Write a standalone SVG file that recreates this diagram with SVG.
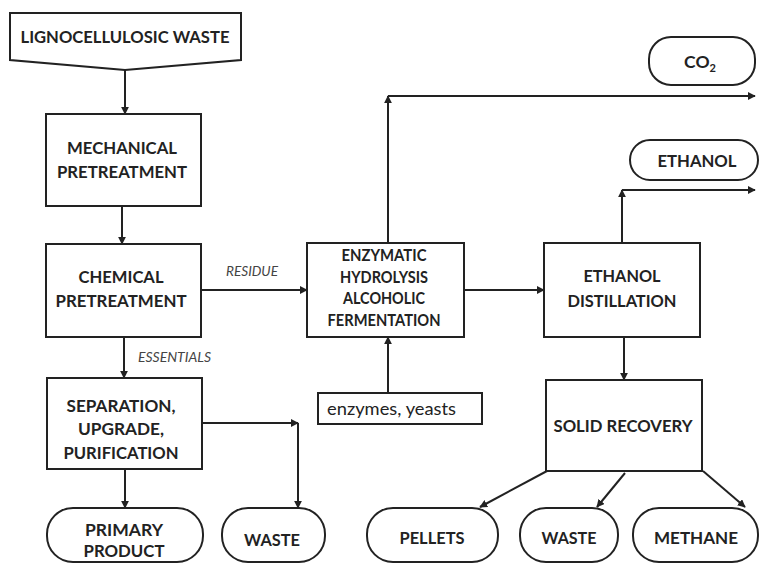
<svg xmlns="http://www.w3.org/2000/svg" width="760" height="564" viewBox="0 0 760 564">
  <style>
    .box { fill: #fff; stroke: #222; stroke-width: 2; }
    .lbl { font-family: Lato, "Open Sans", "Liberation Sans", sans-serif; font-weight: bold; font-size: 17.5px; fill: #222; text-anchor: middle; }
    .note { font-family: Lato, "Open Sans", "Liberation Sans", sans-serif; font-style: italic; font-size: 13.5px; fill: #444; }
    .plain { font-family: Lato, "Open Sans", "Liberation Sans", sans-serif; font-size: 17.5px; fill: #222; }
    .wire { fill: none; stroke: #222; stroke-width: 2; marker-end: url(#arrow); }
  </style>
  <defs>
    <marker id="arrow" viewBox="0 0 10 10" refX="9" refY="5" markerWidth="4" markerHeight="4" orient="auto" markerUnits="strokeWidth">
      <path d="M0,0 L10,5 L0,10 z" fill="#222"/>
    </marker>
  </defs>
  <rect width="760" height="564" fill="#fff"/>

  <!-- connectors -->
  <g id="connectors">
    <line class="wire" x1="125" y1="70" x2="125" y2="114"/>
    <line class="wire" x1="122" y1="206" x2="122" y2="244"/>
    <line class="wire" x1="201" y1="290" x2="307" y2="290"/>
    <line class="wire" x1="124" y1="337" x2="124" y2="378"/>
    <line class="wire" x1="125" y1="469" x2="125" y2="508"/>
    <line class="wire" x1="202" y1="423" x2="298" y2="423"/>
    <line class="wire" x1="298" y1="423" x2="298" y2="508"/>
    <line class="wire" x1="388" y1="393" x2="388" y2="337"/>
    <line class="wire" x1="388" y1="243" x2="388" y2="96"/>
    <line class="wire" x1="388" y1="96" x2="755" y2="96"/>
    <line class="wire" x1="464" y1="290" x2="544" y2="290"/>
    <line class="wire" x1="622" y1="243" x2="622" y2="190"/>
    <line class="wire" x1="622" y1="190" x2="755" y2="190"/>
    <line class="wire" x1="624" y1="337" x2="624" y2="380"/>
    <line class="wire" x1="547" y1="471" x2="480" y2="507"/>
    <line class="wire" x1="625" y1="473" x2="597" y2="507"/>
    <line class="wire" x1="703" y1="471" x2="745" y2="507"/>
    <text class="note" x="226" y="276" textLength="52" lengthAdjust="spacingAndGlyphs">RESIDUE</text>
    <text class="note" x="138" y="362" textLength="73" lengthAdjust="spacingAndGlyphs">ESSENTIALS</text>
  </g>

  <g id="lignocellulosic-waste">
    <path class="box" d="M10,13 L241,13 L241,60 L125,70 L10,60 Z"/>
    <text class="lbl" x="125" y="43" textLength="209" lengthAdjust="spacingAndGlyphs">LIGNOCELLULOSIC WASTE</text>
  </g>

  <g id="mechanical-pretreatment">
    <rect class="box" x="46" y="114" width="155" height="92"/>
    <text class="lbl" x="122" y="154" textLength="110" lengthAdjust="spacingAndGlyphs">MECHANICAL</text>
    <text class="lbl" x="122" y="178" textLength="130" lengthAdjust="spacingAndGlyphs">PRETREATMENT</text>
  </g>

  <g id="chemical-pretreatment">
    <rect class="box" x="46" y="244" width="155" height="93"/>
    <text class="lbl" x="121" y="283" textLength="85" lengthAdjust="spacingAndGlyphs">CHEMICAL</text>
    <text class="lbl" x="121" y="307" textLength="131" lengthAdjust="spacingAndGlyphs">PRETREATMENT</text>
  </g>

  <g id="separation">
    <rect class="box" x="47" y="378" width="155" height="91"/>
    <text class="lbl" x="121" y="412" textLength="109" lengthAdjust="spacingAndGlyphs">SEPARATION,</text>
    <text class="lbl" x="121" y="435" textLength="86" lengthAdjust="spacingAndGlyphs">UPGRADE,</text>
    <text class="lbl" x="121" y="459" textLength="115" lengthAdjust="spacingAndGlyphs">PURIFICATION</text>
  </g>

  <g id="primary-product">
    <rect class="box" x="47" y="508" width="156" height="54" rx="26"/>
    <text class="lbl" x="124" y="536" textLength="78" lengthAdjust="spacingAndGlyphs">PRIMARY</text>
    <text class="lbl" x="124" y="557" textLength="81" lengthAdjust="spacingAndGlyphs">PRODUCT</text>
  </g>

  <g id="waste-left">
    <rect class="box" x="222" y="508" width="103" height="54" rx="26"/>
    <text class="lbl" x="272" y="546" textLength="56" lengthAdjust="spacingAndGlyphs">WASTE</text>
  </g>

  <g id="fermentation">
    <rect class="box" x="307" y="243" width="157" height="94"/>
    <text class="lbl" x="384" y="261" textLength="85" lengthAdjust="spacingAndGlyphs">ENZYMATIC</text>
    <text class="lbl" x="384" y="283" textLength="88" lengthAdjust="spacingAndGlyphs">HYDROLYSIS</text>
    <text class="lbl" x="384" y="304" textLength="82" lengthAdjust="spacingAndGlyphs">ALCOHOLIC</text>
    <text class="lbl" x="384" y="326" textLength="113" lengthAdjust="spacingAndGlyphs">FERMENTATION</text>
  </g>

  <g id="enzymes-yeasts">
    <rect class="box" x="318" y="393" width="164" height="31"/>
    <text class="plain" x="327" y="415" textLength="129" lengthAdjust="spacingAndGlyphs">enzymes, yeasts</text>
  </g>

  <g id="co2">
    <rect class="box" x="649" y="37" width="106" height="48" rx="22"/>
    <text class="lbl" x="700" y="68"><tspan>CO</tspan><tspan dy="4" font-size="11">2</tspan></text>
  </g>

  <g id="ethanol">
    <rect class="box" x="630" y="140" width="128" height="40" rx="20"/>
    <text class="lbl" x="697" y="167" textLength="79" lengthAdjust="spacingAndGlyphs">ETHANOL</text>
  </g>

  <g id="ethanol-distillation">
    <rect class="box" x="544" y="243" width="156" height="94"/>
    <text class="lbl" x="622" y="282" textLength="77" lengthAdjust="spacingAndGlyphs">ETHANOL</text>
    <text class="lbl" x="622" y="307" textLength="109" lengthAdjust="spacingAndGlyphs">DISTILLATION</text>
  </g>

  <g id="solid-recovery">
    <rect class="box" x="546" y="380" width="156" height="91"/>
    <text class="lbl" x="623" y="432" textLength="139" lengthAdjust="spacingAndGlyphs">SOLID RECOVERY</text>
  </g>

  <g id="pellets">
    <rect class="box" x="367" y="508" width="131" height="54" rx="26"/>
    <text class="lbl" x="432" y="544" textLength="65" lengthAdjust="spacingAndGlyphs">PELLETS</text>
  </g>

  <g id="waste-right">
    <rect class="box" x="520" y="508" width="98" height="54" rx="26"/>
    <text class="lbl" x="569" y="544" textLength="55" lengthAdjust="spacingAndGlyphs">WASTE</text>
  </g>

  <g id="methane">
    <rect class="box" x="633" y="508" width="125" height="54" rx="26"/>
    <text class="lbl" x="696" y="544" textLength="84" lengthAdjust="spacingAndGlyphs">METHANE</text>
  </g>
</svg>
